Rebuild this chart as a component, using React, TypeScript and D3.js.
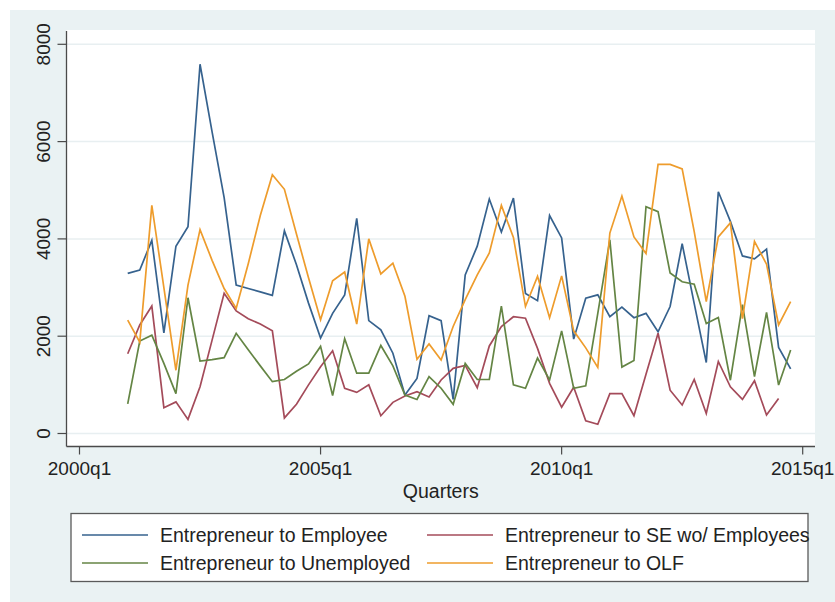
import React from "react";
import * as d3 from "d3";

// Quarterly transition counts, 2001q1 through 2014q4 (quarter index 4 = 2001q1, 0 = 2000q1)
const startQuarter = 4;

const toEmployee = [
  3290, 3360, 3970, 2070, 3850, 4250, 7590, 6200, 4850, 3050, 2980, 2910, 2840, 4165,
  3470, 2680, 1960, 2470, 2850, 4420, 2320, 2130, 1650, 790, 1130, 2420, 2320, 700,
  3260, 3850, 4820, 4140, 4840, 2880, 2730, 4480, 4020, 1940, 2780, 2850, 2400, 2600,
  2380, 2470, 2090, 2610, 3900, 2670, 1460, 4970, 4360, 3650, 3590, 3790, 1770, 1330,
];

const toSEnoEmployees = [
  1640, 2230, 2620, 530, 650, 290, 960, 1920, 2880, 2520, 2360, 2250, 2110, 320,
  600, 1000, 1370, 1700, 930, 845, 1000, 365, 640, 770, 860, 750, 1100, 1340,
  1400, 940, 1800, 2200, 2400, 2370, 1750, 1030, 540, 950, 260, 190, 820, 820,
  365, 1220, 2060, 890, 585, 1110, 410, 1480, 960, 700, 1085, 380, 720,
];

const toUnemployed = [
  610, 1900, 2020, 1440, 820, 2790, 1490, 1520, 1560, 2060, 1720, 1390, 1065, 1110,
  1280, 1430, 1790, 780, 1950, 1240, 1240, 1810, 1390, 790, 700, 1170, 930, 600,
  1440, 1110, 1110, 2620, 1000, 930, 1550, 1100, 2110, 930, 980, 2470, 3980, 1365,
  1500, 4660, 4560, 3300, 3120, 3070, 2260, 2385, 1095, 2650, 1170, 2490, 995, 1715,
];

const toOLF = [
  2330, 1880, 4690, 3000, 1300, 3050, 4190, 3560, 2980, 2570, 3490, 4480, 5320, 5020,
  4100, 3200, 2340, 3140, 3320, 2250, 4000, 3280, 3500, 2820, 1525, 1840, 1510, 2200,
  2750, 3260, 3710, 4690, 4030, 2610, 3230, 2380, 3240, 2110, 1760, 1360, 4120, 4880,
  4040, 3700, 5530, 5530, 5440, 4150, 2710, 4040, 4330, 2360, 3950, 3480, 2230, 2710,
];

const seriesNames = [
  "Entrepreneur to Employee",
  "Entrepreneur to SE wo/ Employees",
  "Entrepreneur to Unemployed",
  "Entrepreneur to OLF",
];
const seriesColors = ["#36628e", "#a44b5a", "#648544", "#ee9c2c"];
const seriesValues = [toEmployee, toSEnoEmployees, toUnemployed, toOLF];

const yTicks = [0, 2000, 4000, 6000, 8000];
const xTicks = [0, 20, 40, 60];
const xTickLabels = ["2000q1", "2005q1", "2010q1", "2015q1"];
const xTitle = "Quarters";

const W = 835;
const H = 602;
const FONT = "'Liberation Sans', Arial, Helvetica, sans-serif";

export default function App() {
  const plotLeft = 66.5;
  const plotRight = 815;
  const plotTop = 30;
  const plotBottom = 446.5;

  const x = d3.scaleLinear().domain([0, 60]).range([79.5, 802.7]);
  const y = d3.scaleLinear().domain([0, 8000]).range([433.5, 44.3]);

  const line = d3
    .line<number>()
    .x((_, i) => x(startQuarter + i))
    .y((v) => y(v));

  // legend: two columns, row-wise
  const legendCols = [82, 427];
  const legendRows = [535, 563];

  return (
    <svg
      width={W}
      height={H}
      viewBox={`0 0 ${W} ${H}`}
      style={{ position: "absolute", left: 0, top: 0, display: "block" }}
    >
      <rect x={0} y={0} width={W} height={H} fill="#ffffff" />
      <rect x={10} y={10} width={W - 10} height={H - 10} fill="#eaf2f3" />
      <rect
        x={plotLeft}
        y={plotTop}
        width={plotRight - plotLeft}
        height={plotBottom - plotTop}
        fill="#ffffff"
      />

      {/* gridlines */}
      {yTicks.map((t) => (
        <line
          key={`g${t}`}
          x1={plotLeft}
          x2={plotRight}
          y1={y(t)}
          y2={y(t)}
          stroke="#e8eff1"
          strokeWidth={1.5}
        />
      ))}

      {/* series */}
      {seriesValues.map((vals, k) => (
        <path
          key={seriesNames[k]}
          d={line(vals) || ""}
          fill="none"
          stroke={seriesColors[k]}
          strokeWidth={1.7}
          strokeLinejoin="miter"
          strokeMiterlimit={4}
        />
      ))}

      {/* axes */}
      <line x1={plotLeft} x2={plotLeft} y1={plotTop + 1} y2={plotBottom} stroke="#4a4a4a" strokeWidth={1.3} />
      <line x1={plotLeft} x2={plotRight} y1={plotBottom} y2={plotBottom} stroke="#4a4a4a" strokeWidth={1.3} />

      {yTicks.map((t) => (
        <g key={`yt${t}`}>
          <line x1={plotLeft - 9} x2={plotLeft} y1={y(t)} y2={y(t)} stroke="#4a4a4a" strokeWidth={1.2} />
          <text
            transform={`translate(50,${y(t)}) rotate(-90)`}
            textAnchor="middle"
            fontFamily={FONT}
            fontSize={19}
            fill="#222"
          >
            {t}
          </text>
        </g>
      ))}

      {xTicks.map((t, i) => (
        <g key={`xt${t}`}>
          <line x1={x(t)} x2={x(t)} y1={plotBottom} y2={plotBottom + 8} stroke="#4a4a4a" strokeWidth={1.2} />
          <text
            x={x(t)}
            y={475}
            textAnchor="middle"
            fontFamily={FONT}
            fontSize={19}
            fill="#222"
          >
            {xTickLabels[i]}
          </text>
        </g>
      ))}

      <text
        x={(plotLeft + plotRight) / 2}
        y={497.5}
        textAnchor="middle"
        fontFamily={FONT}
        fontSize={19.5}
        fill="#222"
      >
        {xTitle}
      </text>

      {/* legend */}
      <rect x={71} y={513.5} width={737} height={68} fill="#ffffff" stroke="#5a5a5a" strokeWidth={1.3} />
      {seriesNames.map((name, k) => {
        const cx = legendCols[k % 2];
        const cy = legendRows[Math.floor(k / 2)];
        return (
          <g key={`lg${k}`}>
            <line x1={cx} x2={cx + 66} y1={cy} y2={cy} stroke={seriesColors[k]} strokeWidth={1.3} />
            <text x={cx + 78} y={cy + 7} fontFamily={FONT} fontSize={19.5} fill="#222">
              {name}
            </text>
          </g>
        );
      })}
    </svg>
  );
}
